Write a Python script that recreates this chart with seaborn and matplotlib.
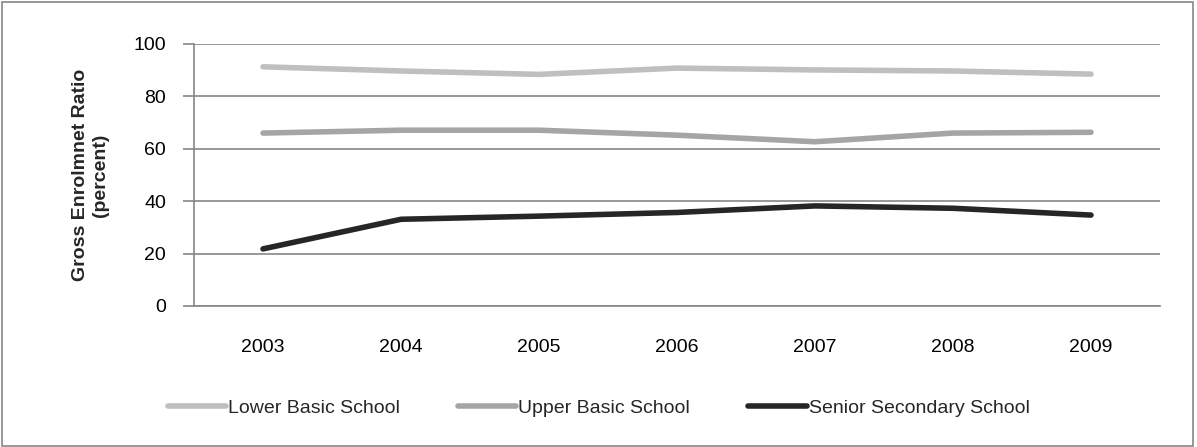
import pandas as pd
import matplotlib.pyplot as plt
import seaborn as sns
from matplotlib.patches import Rectangle

years = ['2003', '2004', '2005', '2006', '2007', '2008', '2009']
lower_basic = [91.3, 89.7, 88.4, 90.8, 90.1, 89.7, 88.5]
upper_basic = [66.0, 67.1, 67.1, 65.2, 62.7, 66.0, 66.3]
senior_secondary = [21.8, 33.1, 34.3, 35.7, 38.2, 37.3, 34.7]

series = ['Lower Basic School', 'Upper Basic School', 'Senior Secondary School']
df = pd.DataFrame({
    'idx': list(range(len(years))) * 3,
    'value': lower_basic + upper_basic + senior_secondary,
    'series': [s for s in series for _ in years],
})

sns.set_theme(style='white')
plt.rcParams['font.family'] = ['Liberation Sans', 'DejaVu Sans']

fig = plt.figure(figsize=(11.97, 4.47), dpi=100)
ax = fig.add_axes([194 / 1197, 1 - 306 / 447, (1160 - 194) / 1197, (306 - 44) / 447])

palette = {'Lower Basic School': '#bfbfbf', 'Upper Basic School': '#a5a5a5',
           'Senior Secondary School': '#262626'}
sns.lineplot(data=df, x='idx', y='value', hue='series', palette=palette,
             linewidth=4, ax=ax, legend=False, zorder=3)

ax.set_xlim(-0.5, len(years) - 0.5)
ax.set_ylim(0, 100)
ax.set_yticks(range(0, 101, 20))
ax.set_xticks(range(len(years)))
ax.set_xticklabels(years)
ax.tick_params(axis='x', labelsize=14, colors='black', length=0, pad=24)
ax.tick_params(axis='y', labelsize=14, labelcolor='black', color='#868686',
               length=8, width=1.2, pad=12, left=True)
ax.grid(axis='y', color='#868686', linewidth=1.2)
for side in ['top', 'right']:
    ax.spines[side].set_visible(False)
for side in ['left', 'bottom']:
    ax.spines[side].set_color('#868686')
    ax.spines[side].set_linewidth(1.2)
ax.set_xlabel('')
ax.set_ylabel('Gross Enrolmnet Ratio\n(percent)', fontsize=14, fontweight='bold', labelpad=18)

handles = [plt.Line2D([], [], color=palette[s], linewidth=4) for s in series]
fig.legend(handles, series, loc='center', bbox_to_anchor=(0.5, 1 - 408 / 447),
           ncol=3, frameon=False, fontsize=14, handlelength=3, handletextpad=0.1,
           columnspacing=3)

fig.patches.append(Rectangle((0.002, 0.003), 0.995, 0.993, transform=fig.transFigure,
                             fill=False, edgecolor='#868686', linewidth=1.2))

fig.savefig('out.png', dpi=100)
